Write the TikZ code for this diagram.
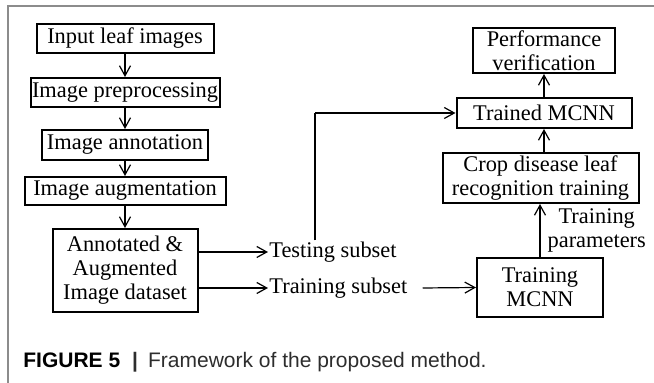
\documentclass[tikz,border=0pt]{standalone}
\usepackage{fontspec}
\usepackage{xcolor}
\usetikzlibrary{arrows.meta}
\setmainfont{Liberation Serif}
\newfontfamily\capfont{Liberation Sans}
\definecolor{Frame-Gray}{RGB}{140, 140, 140}
\definecolor{Caption-Gray}{RGB}{45, 45, 45}
\tikzset{
    stagebox/.style={draw, line width=1pt, inner sep=0pt, align=center},
    flowarrow/.style={line width=0.6pt, -{Straight Barb[length=5pt, width=5.5pt]}},
    subsetlabel/.style={inner sep=0.5pt, anchor=west}
}

\begin{document}
\begin{tikzpicture}[x=0.5pt, y=-0.5pt, font=\fontsize{11.2}{12}\selectfont]

    \useasboundingbox (0,0) rectangle (654,383);

    \draw[Frame-Gray, line width=0.7pt] (8,383) -- (8,6) -- (654,6);

    \node[stagebox, minimum width=88.5pt, minimum height=14.5pt] (input) at (125,38.5) {Input leaf images};

    \node[stagebox, minimum width=94.5pt, minimum height=14.5pt] (preproc) at (125,92.5) {Image preprocessing};

    \node[stagebox, minimum width=83pt, minimum height=15pt] (annot) at (125,145) {Image annotation};

    \node[stagebox, minimum width=100.5pt, minimum height=14pt] (augment) at (125,191) {Image augmentation};

    \node[stagebox, minimum width=72.5pt, minimum height=41.5pt] (dataset) at (125,270.5) {Annotated \&\\Augmented\\Image dataset};

    \node[subsetlabel] (testing) at (268,252) {Testing subset};

    \node[subsetlabel] (training) at (268,288) {Training subset};

    \node[stagebox, minimum width=63pt, minimum height=29.5pt] (trainmcnn) at (540,287.5) {Training\\MCNN};

    \node[stagebox, minimum width=98pt, minimum height=25pt] (crop) at (540.5,178) {Crop disease leaf\\recognition training};

    \node[stagebox, minimum width=87.5pt, minimum height=15pt] (trained) at (544,113) {Trained MCNN};

    \node[stagebox, minimum width=71pt, minimum height=22.5pt] (perf) at (544,50.5) {Performance\\verification};

    \coordinate (bend) at (315,113);

    \draw[flowarrow] (input) -- (preproc);
    \draw[flowarrow] (preproc) -- (annot);
    \draw[flowarrow] (annot) -- (augment);
    \draw[flowarrow] (augment) -- (dataset);

    \draw[flowarrow] (dataset.east |- testing.west) -- (testing.west);
    \draw[flowarrow] (dataset.east |- training.west) -- (training.west);

    \draw[line width=0.6pt] (bend |- testing.north) -- (bend);
    \draw[flowarrow] (bend) -- (trained.west);

    \draw[flowarrow] ([xshift=7pt]training.east) -- (trainmcnn.west);

    \draw[flowarrow] (trainmcnn.north) -- (trainmcnn.north |- crop.south)
        node[midway, right=3.5pt, inner sep=0pt, align=center] (params) {Training\\parameters};

    \draw[flowarrow] (crop.north -| trained.south) -- (trained.south);
    \draw[flowarrow] (trained) -- (perf);

    \node[anchor=west, inner sep=0pt, text=Caption-Gray, font=\capfont\fontsize{10.5}{12}\selectfont] (caption) at (23,362) {\textbf{\color{black}FIGURE 5}\hspace{6pt}\textbf{|}\hspace{5pt}Framework of the proposed method.};

\end{tikzpicture}
\end{document}
